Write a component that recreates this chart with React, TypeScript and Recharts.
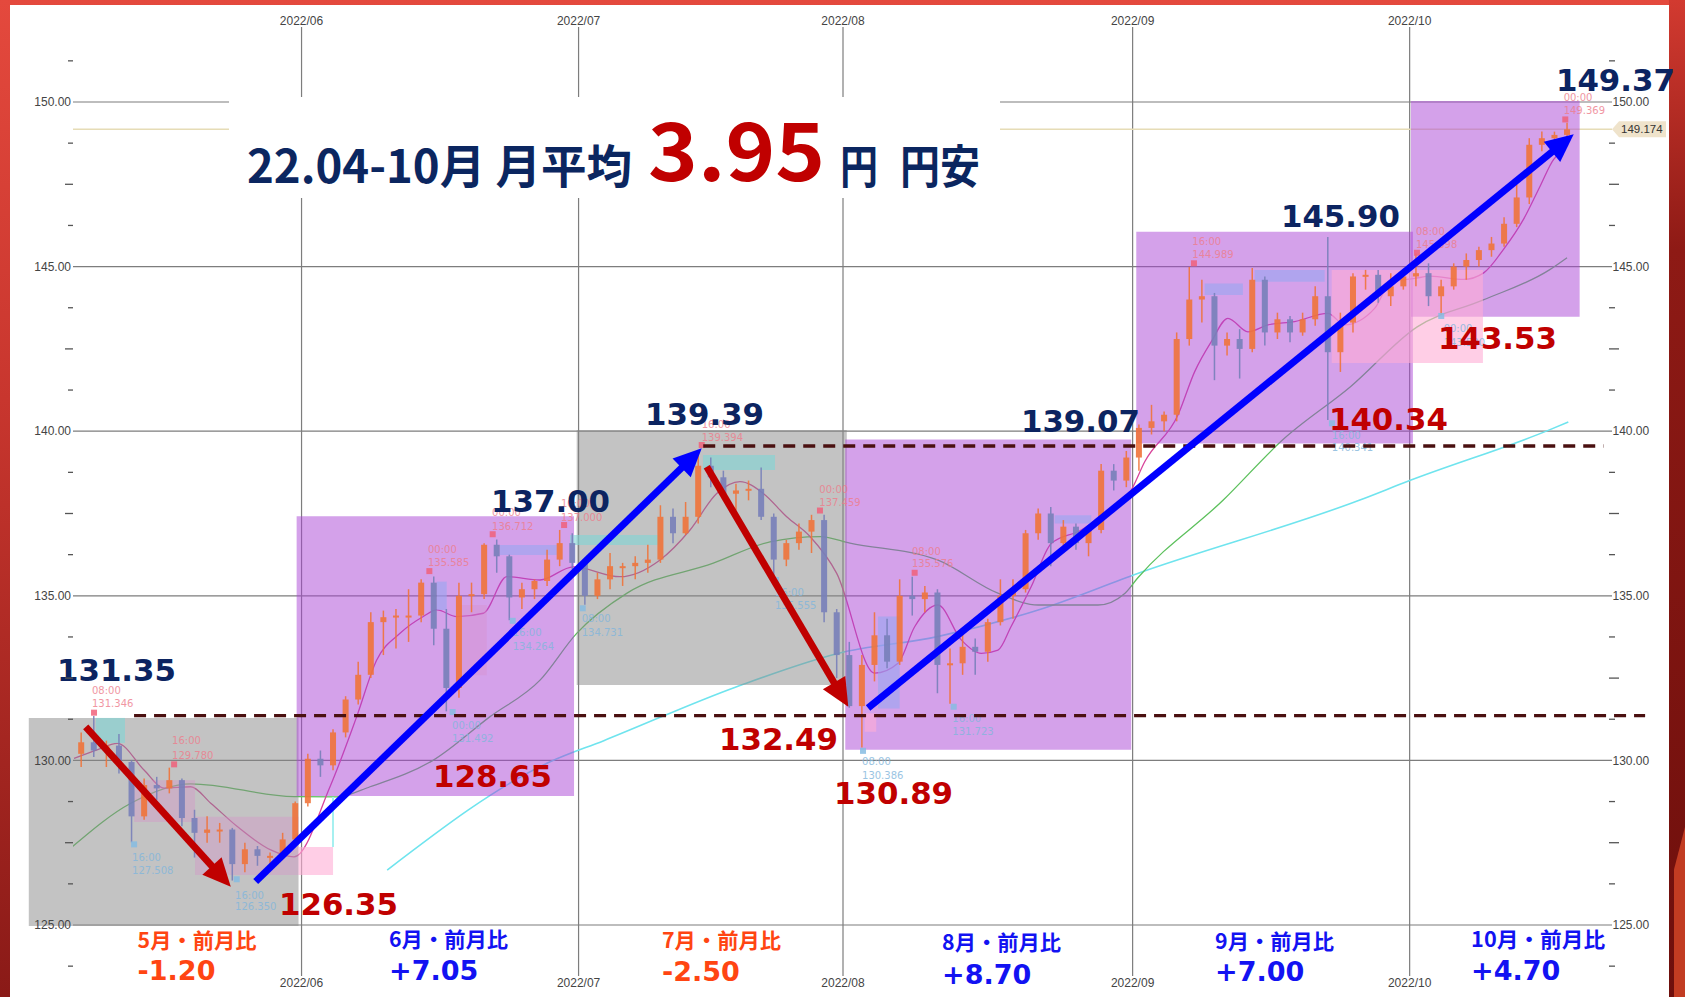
import React from 'react';
import {
  ComposedChart,
  XAxis,
  YAxis,
  Bar,
  Line,
  ReferenceArea,
  ReferenceLine,
  ReferenceDot,
} from 'recharts';

const CHART_W = 1685;
const CHART_H = 997;

// x = trading-day index (0 = 2022/06/01), y = USD/JPY
const X_DOMAIN = [-18.15, 104.07];
const Y_DOMAIN = [123.451, 152.278];

const monthTicks = [0, 22, 43, 66, 88];
const monthTickLabels = ['2022/06', '2022/07', '2022/08', '2022/09', '2022/10'];
const priceTicks = [
  123.75, 125, 126.25, 127.5, 128.75, 130, 131.25, 132.5, 133.75, 135, 136.25, 137.5,
  138.75, 140, 141.25, 142.5, 143.75, 145, 146.25, 147.5, 148.75, 150, 151.25,
];
const gridPrices = [125, 130, 135, 140, 145, 150];
const currentPrice = 149.174;

// daily candles [open, high, low, close]
const mayStart = -18;
const mayOHLC = [
  [130.2, 130.85, 129.8, 130.55], [130.55, 131.35, 130.1, 130.3], [130.3, 130.6, 129.8, 130.45],
  [130.45, 130.8, 129.6, 129.95], [129.95, 130.0, 127.51, 128.3], [128.3, 129.45, 128.2, 129.25],
  [129.25, 129.5, 128.8, 129.15], [129.15, 129.78, 129.0, 129.4], [129.4, 129.45, 128.0, 128.25],
  [128.25, 128.5, 127.05, 127.8], [127.8, 128.3, 127.5, 127.9], [127.9, 128.1, 127.5, 127.9],
  [127.9, 127.95, 126.35, 126.85], [126.85, 127.5, 126.6, 127.3], [127.3, 127.4, 126.8, 127.1],
  [127.1, 127.2, 126.8, 127.1], [127.1, 127.8, 127.0, 127.6], [127.6, 128.75, 127.55, 128.7],
];
const junStart = 0;
const junOHLC = [
  [128.7, 130.2, 128.6, 130.05], [130.05, 130.3, 129.5, 129.85], [129.85, 130.95, 129.7, 130.85],
  [130.85, 131.95, 130.7, 131.85], [131.85, 133.0, 131.7, 132.6], [132.6, 134.5, 132.5, 134.2],
  [134.2, 134.55, 133.2, 134.35], [134.35, 134.6, 133.4, 134.4], [134.4, 135.2, 133.6, 134.4],
  [134.4, 135.5, 134.2, 135.4], [135.4, 135.59, 133.5, 134.0], [134.0, 134.6, 131.49, 132.2],
  [132.2, 135.4, 131.9, 135.0], [135.0, 135.4, 134.5, 135.05], [135.05, 136.6, 134.9, 136.55],
  [136.55, 136.71, 135.7, 136.2], [136.2, 136.25, 134.26, 134.95], [134.95, 135.4, 134.6, 135.2],
  [135.2, 135.5, 134.9, 135.45], [135.45, 136.4, 135.3, 136.1], [136.1, 137.0, 135.9, 136.6],
  [136.6, 136.9, 135.8, 136.0],
];
const julStart = 22;
const julOHLC = [
  [136.0, 136.1, 134.73, 135.0], [135.0, 135.7, 134.9, 135.5], [135.5, 136.3, 135.2, 135.9],
  [135.9, 136.0, 135.3, 135.9], [135.9, 136.2, 135.5, 136.0], [136.0, 136.55, 135.7, 136.1],
  [136.1, 137.75, 136.0, 137.4], [137.4, 137.65, 136.6, 136.9], [136.9, 137.85, 136.85, 137.4],
  [137.4, 139.39, 137.2, 138.95], [138.95, 139.2, 138.3, 138.6], [138.6, 138.8, 138.0, 138.1],
  [138.1, 138.4, 137.6, 138.2], [138.2, 138.5, 137.9, 138.25], [138.25, 138.9, 137.3, 137.4],
  [137.4, 137.5, 135.55, 136.1], [136.1, 136.7, 135.9, 136.6], [136.6, 137.2, 136.4, 136.95],
  [136.95, 137.46, 136.3, 137.3], [137.3, 137.46, 134.2, 134.5], [134.5, 134.6, 132.5, 133.2],
];
const augStart = 43;
const augOHLC = [
  [133.2, 133.6, 131.6, 131.65], [131.65, 133.2, 130.39, 132.9], [132.9, 134.5, 132.4, 133.8],
  [133.8, 134.3, 132.8, 133.0], [133.0, 135.5, 132.9, 135.0], [135.0, 135.58, 134.4, 134.9],
  [134.9, 135.3, 134.5, 135.1], [135.1, 135.2, 132.04, 132.9], [132.9, 133.4, 131.72, 132.95],
  [132.95, 133.9, 132.6, 133.45], [133.45, 133.7, 132.6, 133.3], [133.3, 134.3, 133.0, 134.2],
  [134.2, 135.5, 134.1, 135.0], [135.0, 135.5, 134.3, 135.2], [135.2, 137.0, 135.1, 136.9],
  [136.9, 137.65, 136.7, 137.5], [137.5, 137.7, 135.9, 136.6], [136.6, 137.3, 136.4, 137.1],
  [137.1, 137.2, 136.4, 136.6], [136.6, 137.1, 136.2, 137.0], [137.0, 139.0, 136.9, 138.8],
  [138.8, 139.0, 138.2, 138.5], [138.5, 139.4, 138.3, 139.2],
];
const sepStart = 66;
const sepOHLC = [
  [139.2, 140.2, 138.8, 140.1], [140.1, 140.8, 139.9, 140.3], [140.3, 140.6, 140.0, 140.5],
  [140.5, 143.0, 140.3, 142.8], [142.8, 144.99, 142.6, 144.0], [144.0, 144.6, 143.3, 144.1],
  [144.1, 144.2, 141.55, 142.6], [142.6, 143.0, 142.3, 142.8], [142.8, 143.1, 141.6, 142.5],
  [142.5, 144.96, 142.4, 144.6], [144.6, 144.7, 142.6, 143.0], [143.0, 143.6, 142.8, 143.4],
  [143.4, 143.5, 142.7, 143.0], [143.0, 143.6, 142.9, 143.4], [143.4, 144.4, 143.2, 144.1],
  [144.1, 145.9, 140.34, 142.4], [142.4, 143.6, 141.8, 143.3], [143.3, 144.8, 143.0, 144.7],
  [144.7, 144.9, 144.3, 144.75], [144.75, 144.9, 143.9, 144.1], [144.1, 144.8, 143.8, 144.4],
  [144.4, 144.9, 144.3, 144.7],
];
const octStart = 88;
const octOHLC = [
  [144.7, 145.4, 144.4, 144.8], [144.8, 145.1, 143.8, 144.1], [144.1, 144.6, 143.53, 144.4],
  [144.4, 145.1, 144.3, 145.0], [145.0, 145.4, 144.6, 145.2], [145.2, 145.6, 145.0, 145.5],
  [145.5, 145.9, 145.3, 145.7], [145.7, 146.5, 145.6, 146.3], [146.3, 147.5, 146.2, 147.1],
  [147.1, 148.9, 146.9, 148.7], [148.7, 149.1, 148.5, 148.9], [148.9, 149.1, 148.4, 149.0],
  [149.0, 149.37, 148.9, 149.17],
];

// moving averages [x index, value]
const fastMA = [
  [-18.07, 130.06], [-16.24, 130.32], [-14.63, 130.52], [-12.51, 129.71], [-10.92, 129.16],
  [-8.8, 129.2], [-7.21, 128.7], [-5.1, 127.99], [-2.45, 127.28], [-0.6, 127.07], [2.26, 129.2],
  [4.38, 131.33], [5.97, 133.05], [7.82, 133.86], [9.67, 134.37], [10.74, 134.57], [12.32, 134.37],
  [14.44, 134.47], [16.3, 135.58], [18.94, 135.48], [21.58, 135.88], [25.29, 135.58],
  [28.47, 136.09], [30.85, 137.0], [32.97, 138.11], [34.82, 138.47], [36.67, 138.11],
  [38.53, 137.4], [40.38, 136.8], [42.5, 135.68], [45.52, 132.65], [47.37, 132.95],
  [48.69, 134.06], [50.54, 134.72], [52.39, 133.66], [53.98, 133.25], [55.31, 133.35],
  [56.34, 134.06], [57.95, 135.28], [59.54, 136.59], [61.92, 137.0], [63.78, 137.51],
  [65.89, 138.21], [66.96, 139.07], [69.6, 140.49], [70.93, 141.81], [72.25, 142.72],
  [73.57, 143.43], [75.16, 143.02], [76.75, 143.23], [78.87, 143.33], [81.51, 143.58],
  [82.84, 143.23], [85.22, 143.73], [86.54, 144.54], [88.4, 144.64], [89.64, 144.71],
  [92.29, 144.61], [93.88, 144.81], [95.47, 145.53], [97.05, 146.44], [98.37, 147.45],
  [99.44, 148.26], [99.96, 148.46],
];
const midMA = [
  [-18.2, 127.38], [-13.56, 128.7], [-8.8, 129.29], [-0.6, 128.9], [2.8, 128.89], [5.44, 129.2],
  [10.47, 130.01], [14.97, 131.33], [18.94, 132.44], [21.85, 133.86], [25.85, 135.08],
  [32.7, 135.99], [37.2, 136.64], [41.2, 136.8], [43.55, 136.6], [50.5, 136.09], [55.3, 135.08],
  [58.5, 134.72], [63.25, 134.72], [65.4, 135.08], [66.4, 135.54], [73.2, 137.91],
  [77.9, 139.73], [83.3, 141.35], [88.6, 143.17], [93.8, 143.98], [99.1, 144.9], [100.5, 145.27],
];
const slowMA = [
  [6.8, 126.67], [19.7, 129.95], [24.0, 130.6], [34.56, 132.24], [42.6, 133.25], [50.5, 133.76],
  [58.5, 134.57], [66.4, 135.68], [84.05, 137.91], [88.0, 138.5], [99.1, 140.04], [100.6, 140.28],
];

// monthly ranges [x1, x2, low, high]
const mayRange = [-21.66, -0.24, 124.97, 131.29];
const junRange = [-0.39, 21.64, 128.92, 137.42];
const julRange = [21.85, 43.3, 132.29, 140.04];
const augRange = [43.18, 65.89, 130.32, 139.75];
const sepRange = [66.29, 88.26, 139.63, 146.06];
const octRange = [88.1, 101.5, 143.48, 150.03];

// indicator zones [x1, x2, low, high]
const cyanZones = [
  [-16.34, -14.02, 130.53, 131.29], [31.88, 37.6, 138.82, 139.28], [21.32, 28.47, 136.54, 136.85],
];
const blueZones = [
  [15.76, 20.27, 136.24, 136.54], [10.74, 11.53, 134.57, 135.43], [45.78, 47.5, 131.58, 134.37],
  [59.81, 62.72, 137.2, 137.45], [71.72, 74.76, 144.14, 144.49], [75.69, 81.25, 144.54, 144.9],
];
const pinkZones = [
  [81.81, 93.82, 142.07, 144.9], [-0.24, 2.5, 126.52, 127.37], [44.72, 45.64, 130.87, 131.43],
];
const mauveZones = [
  [-13.3, -8.46, 128.13, 129.4], [-8.46, -0.24, 126.52, 128.29], [12.59, 14.71, 132.59, 134.72],
];
const cyanStem = [2.5, 127.37, 128.89];

// support / resistance levels [x1, x2, price]
const supportLevel = [-13.3, 106.7, 131.36];
const resistanceLevel = [31.9, 103.4, 139.55];

// trend arrows [xStart, yStart, xEnd, yEnd]
const downArrows = [
  [-17.14, 131.02, -5.62, 126.16],
  [32.18, 138.92, 43.42, 131.63],
];
const upArrows = [
  [-3.64, 126.32, 31.78, 139.48],
  [44.99, 131.59, 101.03, 149.02],
];

// swing highs / lows
const swingHighs = [
  [-16.48, 131.45], [-10.12, 129.88], [10.15, 135.75], [15.18, 136.87], [20.85, 137.15],
  [31.78, 139.58], [41.17, 137.59], [48.69, 135.7], [70.87, 145.1], [88.58, 145.42], [100.36, 149.47],
];
const swingLows = [
  [-13.3, 127.45], [-5.15, 126.39], [12.0, 131.47], [16.77, 134.24], [22.33, 134.62],
  [37.68, 135.48], [44.59, 130.29], [51.79, 131.63], [81.83, 140.24], [90.51, 143.5],
];
const highNotes = [
  [-16.64, 132.14, '08:00'], [-16.64, 131.74, '131.346'], [-10.28, 130.62, '16:00'], [-10.28, 130.16, '129.780'],
  [10.04, 136.42, '00:00'], [10.04, 136.0, '135.585'], [15.13, 137.52, '00:00'], [15.13, 137.12, '136.712'],
  [20.6, 137.82, '16:00'], [20.6, 137.39, '137.000'], [31.78, 140.22, '16:00'], [31.78, 139.8, '139.394'],
  [41.12, 138.24, '00:00'], [41.12, 137.83, '137.459'], [48.48, 136.36, '08:00'], [48.48, 135.97, '135.576'],
  [70.74, 145.78, '16:00'], [70.74, 145.37, '144.989'], [88.5, 146.06, '08:00'], [88.5, 145.66, '145.398'],
  [100.23, 150.15, '00:00'], [100.23, 149.75, '149.369'],
];
const lowNotes = [
  [-13.46, 127.06, '16:00'], [-13.46, 126.67, '127.508'], [-5.28, 125.91, '16:00'], [-5.28, 125.55, '126.350'],
  [11.95, 131.07, '00:00'], [11.95, 130.68, '131.492'], [16.77, 133.88, '16:00'], [16.77, 133.45, '134.264'],
  [22.25, 134.3, '08:00'], [22.25, 133.9, '134.731'], [37.6, 135.09, '16:00'], [37.6, 134.72, '135.555'],
  [44.51, 129.96, '08:00'], [44.51, 129.54, '130.386'], [51.68, 131.28, '16:00'], [51.68, 130.87, '131.723'],
  [81.82, 139.88, '16:00'], [81.82, 139.51, '140.341'], [90.7, 143.11, '00:00'], [90.7, 142.71, '143.530'],
];

// price callouts [x, y, text, kind]
const priceCallouts = [
  [-19.42, 132.75, '131.35', 'hi'], [-1.79, 125.64, '126.35', 'lo'], [10.44, 129.53, '128.65', 'lo'],
  [15.05, 137.88, '137.00', 'hi'], [27.28, 140.52, '139.39', 'hi'], [33.15, 130.65, '132.49', 'lo'],
  [42.29, 129.01, '130.89', 'lo'], [57.13, 140.31, '139.07', 'hi'], [77.78, 146.54, '145.90', 'hi'],
  [81.59, 140.37, '140.34', 'lo'], [90.25, 142.83, '143.53', 'lo'], [99.62, 150.67, '149.37', 'hi'],
];

// month-over-month change
const changeNames = ['5月・前月比', '6月・前月比', '7月・前月比', '8月・前月比', '9月・前月比', '10月・前月比'];
const changeValues = ['-1.20', '+7.05', '-2.50', '+8.70', '+7.00', '+4.70'];
const changeX = [-13.02, 6.95, 28.63, 50.87, 72.55, 92.88];
const changeHeadY = [124.54, 124.57, 124.54, 124.48, 124.51, 124.57];
const changeValueY = [123.63, 123.63, 123.6, 123.51, 123.6, 123.63];

// title
const titleBox = [-5.76, 55.47, 147.08, 150.15];
const titleParts = ['22.04-10月 月平均', '3.95', '円', '円安'];
const titleAnchors = [[-4.33, 147.54], [27.52, 147.6], [42.76, 147.54], [47.53, 147.54]];

const FONT_UI = '"Liberation Sans", Arial, sans-serif';
const FONT_NUM = '"DejaVu Sans", Verdana, sans-serif';
const FONT_JP = '"Noto Sans CJK JP", "Noto Sans CJK SC", sans-serif';

const NAVY = '#0c2461';
const RED = '#c00000';

const candleTable = [
  [mayStart, mayOHLC], [junStart, junOHLC], [julStart, julOHLC],
  [augStart, augOHLC], [sepStart, sepOHLC], [octStart, octOHLC],
].flatMap(([start, rows]: any) =>
  rows.map((r: number[], i: number) => ({
    x: start + i + 0.5, o: r[0], h: r[1], l: r[2], c: r[3], range: [r[2], r[1]],
  })),
);

const toLine = (arr: number[][]) => arr.map(([x, v]) => ({ x, v }));

const BODY_W = 6;

const Candle = (props: any) => {
  const { x, y, width, height, payload } = props;
  if (!payload || x == null || y == null) return null;
  const top = Math.min(y, y + height);
  const hh = Math.abs(height);
  const span = payload.h - payload.l;
  const k = span > 0 ? hh / span : 0;
  const yo = top + (payload.h - payload.o) * k;
  const yc = top + (payload.h - payload.c) * k;
  const up = payload.c >= payload.o;
  const col = up ? '#f0743a' : '#7880ba';
  const cx = x + (width || 0) / 2;
  return (
    <g opacity={0.9}>
      <line x1={cx} x2={cx} y1={top} y2={top + hh} stroke={col} strokeWidth={1.5} />
      <rect x={cx - BODY_W / 2} y={Math.min(yo, yc)} width={BODY_W}
        height={Math.max(2, Math.abs(yc - yo))} fill={col} />
    </g>
  );
};

const arrowShape = (color: string) => (p: any) => {
  const { x1, y1, x2, y2 } = p;
  if (x1 == null || x2 == null) return null;
  const dx = x2 - x1;
  const dy = y2 - y1;
  const len = Math.hypot(dx, dy) || 1;
  const ux = dx / len;
  const uy = dy / len;
  const headL = 28;
  const headW = 13;
  const bx = x2 - ux * headL;
  const by = y2 - uy * headL;
  const nx = -uy;
  const ny = ux;
  return (
    <g>
      <line x1={x1} y1={y1} x2={bx + ux * 3} y2={by + uy * 3} stroke={color} strokeWidth={7} />
      <polygon
        points={`${x2},${y2} ${bx + nx * headW},${by + ny * headW} ${bx - nx * headW},${by - ny * headW}`}
        fill={color}
      />
    </g>
  );
};

const LeftTick = (props: any) => {
  const { x, y, payload } = props;
  const v = payload.value;
  if (gridPrices.includes(v)) {
    return (
      <text x={x - 2} y={y + 4.2} textAnchor="end" fontSize={12} fontFamily={FONT_UI} fill="#444">
        {v.toFixed(2)}
      </text>
    );
  }
  const long = Math.abs((v % 5) - 2.5) < 0.01;
  return <line x1={x - (long ? 8 : 5)} x2={x} y1={y} y2={y} stroke="#555" strokeWidth={1.3} />;
};

const RightTick = (props: any) => {
  const { x, y, payload } = props;
  const v = payload.value;
  if (gridPrices.includes(v)) {
    return (
      <text x={x + 0.5} y={y + 4.2} textAnchor="start" fontSize={12} fontFamily={FONT_UI} fill="#444">
        {v.toFixed(2)}
      </text>
    );
  }
  const long = Math.abs((v % 5) - 2.5) < 0.01;
  return <line x1={x - 3} x2={x + (long ? 7 : 3)} y1={y} y2={y} stroke="#555" strokeWidth={1.3} />;
};

const TopTick = (props: any) => {
  const { x, y, payload } = props;
  const i = monthTicks.indexOf(payload.value);
  return (
    <text x={x} y={y - 2.5} textAnchor="middle" fontSize={12} fontFamily={FONT_UI} fill="#444">
      {monthTickLabels[i]}
    </text>
  );
};

const BottomTick = (props: any) => {
  const { x, y, payload } = props;
  const i = monthTicks.indexOf(payload.value);
  return (
    <text x={x} y={y + 11.3} textAnchor="middle" fontSize={12} fontFamily={FONT_UI} fill="#444">
      {monthTickLabels[i]}
    </text>
  );
};

const textShape = (text: string, o: any) => (p: any) => {
  if (p.cx == null || p.cy == null) return null;
  return (
    <text
      x={p.cx}
      y={o.baseline ? p.cy : p.cy + o.size * 0.36}
      fontSize={o.size}
      fontFamily={o.font}
      fontWeight={o.weight || 'bold'}
      fill={o.color}
      opacity={o.opacity == null ? 1 : o.opacity}
      textLength={o.len}
      lengthAdjust={o.len ? 'spacingAndGlyphs' : undefined}
    >
      {text}
    </text>
  );
};

const squareShape = (color: string) => (p: any) =>
  p.cx == null ? null : <rect x={p.cx - 3} y={p.cy - 3} width={6} height={6} fill={color} opacity={0.85} />;

const priceTagShape = (p: any) => {
  if (p.cx == null) return null;
  const { cx, cy } = p;
  return (
    <g>
      <polygon
        points={`${cx},${cy} ${cx + 7},${cy - 8} ${cx + 54},${cy - 8} ${cx + 54},${cy + 8} ${cx + 7},${cy + 8}`}
        fill="#efe3cb"
      />
      <text x={cx + 9} y={cy + 4} fontSize={11.5} fontFamily={FONT_UI} fill="#333">
        {currentPrice.toFixed(3)}
      </text>
    </g>
  );
};

const AX = { xAxisId: 'B', yAxisId: 'L' };

export default function App() {
  const monthBoxes = [
    [mayRange, 'gray'], [junRange, 'purple'], [julRange, 'gray'],
    [augRange, 'purple'], [sepRange, 'purple'], [octRange, 'purple'],
  ];
  const titleStyles = [
    { size: 46, font: FONT_JP, color: '#0b2660', len: 385, baseline: true },
    { size: 80, font: FONT_JP, color: RED, len: 177, baseline: true },
    { size: 46, font: FONT_JP, color: '#0b2660', len: 38, baseline: true },
    { size: 46, font: FONT_JP, color: '#0b2660', len: 80, baseline: true },
  ];
  return (
    <div style={{ position: 'relative', width: CHART_W, height: CHART_H, overflow: 'hidden',
      background: 'linear-gradient(180deg,#e4493d 0%,#c8362e 40%,#8a1a17 100%)' }}>
      <style>{'html,body{margin:0;padding:0;}'}</style>
      <div style={{ position: 'absolute', right: 0, top: 0, width: 16, height: CHART_H,
        background: 'linear-gradient(180deg,#d23a30 0%,#8e1a15 25%,#6e0f0c 100%)' }} />
      <div style={{ position: 'absolute', right: 0, top: 827, width: 11, height: 170, background: '#c23c22',
        clipPath: 'polygon(100% 0, 100% 100%, 0 100%, 0 25%)' }} />
      <div style={{ position: 'absolute', left: 10, top: 5, width: 1659, height: 992, background: '#ffffff' }} />
      <div style={{ position: 'absolute', left: 0, top: 0 }}>
        <ComposedChart width={CHART_W} height={CHART_H} data={candleTable}
          margin={{ top: 0, right: 0, bottom: 0, left: 0 }}>
          <XAxis xAxisId="B" dataKey="x" type="number" domain={X_DOMAIN} allowDataOverflow
            ticks={monthTicks} interval={0} orientation="bottom" height={21}
            axisLine={false} tickLine={false} tickSize={0} tickMargin={0} tick={(p: any) => <BottomTick {...p} />} />
          <XAxis xAxisId="T" dataKey="x" type="number" domain={X_DOMAIN} allowDataOverflow
            ticks={monthTicks} interval={0} orientation="top" height={27}
            axisLine={false} tickLine={false} tickSize={0} tickMargin={0} tick={(p: any) => <TopTick {...p} />} />
          <YAxis yAxisId="L" type="number" domain={Y_DOMAIN} allowDataOverflow ticks={priceTicks}
            interval={0} orientation="left" width={73} axisLine={false} tickLine={false}
            tickSize={0} tickMargin={0} tick={(p: any) => <LeftTick {...p} />} />
          <YAxis yAxisId="R" type="number" domain={Y_DOMAIN} allowDataOverflow ticks={priceTicks}
            interval={0} orientation="right" width={73} axisLine={false} tickLine={false}
            tickSize={0} tickMargin={0} tick={(p: any) => <RightTick {...p} />} />

          {gridPrices.map((v) => (
            <ReferenceLine key={'gy' + v} {...AX} y={v} stroke="#7d7d7d" strokeWidth={1.2} zIndex={10} />
          ))}
          {monthTicks.map((v) => (
            <ReferenceLine key={'gx' + v} {...AX} x={v} stroke="#7d7d7d" strokeWidth={1.2} zIndex={10} />
          ))}
          <ReferenceLine {...AX} y={currentPrice} stroke="#e6dcb6" strokeWidth={1.5} zIndex={12} />

          <Line {...AX} data={toLine(slowMA)} dataKey="v" type="monotone" dot={false} activeDot={false}
            stroke="#6fe4ee" strokeWidth={1.6} isAnimationActive={false} zIndex={15} />
          <Line {...AX} data={toLine(midMA)} dataKey="v" type="monotone" dot={false} activeDot={false}
            stroke="#5cc05c" strokeWidth={1.3} isAnimationActive={false} zIndex={15} />
          <Line {...AX} data={toLine(fastMA)} dataKey="v" type="monotone" dot={false} activeDot={false}
            stroke="#d8449a" strokeWidth={1.3} isAnimationActive={false} zIndex={15} />

          {monthBoxes.map(([r, kind]: any, i) => (
            <ReferenceArea key={'mb' + i} {...AX} x1={r[0]} x2={r[1]} y1={r[2]} y2={r[3]}
              fill={kind === 'gray' ? '#888888' : '#a944d6'} fillOpacity={0.5} stroke="none"
              ifOverflow="visible" zIndex={20} />
          ))}
          {mauveZones.map((r, i) => (
            <ReferenceArea key={'mz' + i} {...AX} x1={r[0]} x2={r[1]} y1={r[2]} y2={r[3]}
              fill="#d78cc8" fillOpacity={0.35} stroke="none" ifOverflow="visible" zIndex={25} />
          ))}
          {pinkZones.map((r, i) => (
            <ReferenceArea key={'pz' + i} {...AX} x1={r[0]} x2={r[1]} y1={r[2]} y2={r[3]}
              fill="#ffaed6" fillOpacity={0.6} stroke="none" ifOverflow="visible" zIndex={25} />
          ))}
          {cyanZones.map((r, i) => (
            <ReferenceArea key={'cz' + i} {...AX} x1={r[0]} x2={r[1]} y1={r[2]} y2={r[3]}
              fill="#7fd6d6" fillOpacity={0.6} stroke="none" ifOverflow="visible" zIndex={25} />
          ))}
          {blueZones.map((r, i) => (
            <ReferenceArea key={'bz' + i} {...AX} x1={r[0]} x2={r[1]} y1={r[2]} y2={r[3]}
              fill="#98a6f0" fillOpacity={0.6} stroke="none" ifOverflow="visible" zIndex={25} />
          ))}
          <ReferenceLine {...AX} segment={[{ x: cyanStem[0], y: cyanStem[1] }, { x: cyanStem[0], y: cyanStem[2] }]}
            stroke="#a6f0f0" strokeWidth={2} ifOverflow="visible" zIndex={25} />

          <Bar {...AX} dataKey="range" barSize={6} shape={(p: any) => <Candle {...p} />}
            isAnimationActive={false} zIndex={30} />

          {swingHighs.map((d, i) => (
            <ReferenceDot key={'sh' + i} {...AX} x={d[0]} y={d[1]} r={0} ifOverflow="visible"
              shape={squareShape('#f0607a')} zIndex={40} />
          ))}
          {swingLows.map((d, i) => (
            <ReferenceDot key={'sl' + i} {...AX} x={d[0]} y={d[1]} r={0} ifOverflow="visible"
              shape={squareShape('#86bce2')} zIndex={40} />
          ))}
          {highNotes.map((d: any, i) => (
            <ReferenceDot key={'hn' + i} {...AX} x={d[0]} y={d[1]} r={0} ifOverflow="visible"
              shape={textShape(d[2], { size: 10, font: FONT_NUM, weight: 'normal', color: '#ee7d8c', opacity: 0.8 })}
              zIndex={40} />
          ))}
          {lowNotes.map((d: any, i) => (
            <ReferenceDot key={'ln' + i} {...AX} x={d[0]} y={d[1]} r={0} ifOverflow="visible"
              shape={textShape(d[2], { size: 10, font: FONT_NUM, weight: 'normal', color: '#82b6dc', opacity: 0.8 })}
              zIndex={40} />
          ))}

          {[supportLevel, resistanceLevel].map((s, i) => (
            <ReferenceLine key={'lv' + i} {...AX} segment={[{ x: s[0], y: s[2] }, { x: s[1], y: s[2] }]}
              stroke="#4a1010" strokeWidth={3.4} strokeDasharray="12 8" ifOverflow="visible" zIndex={50} />
          ))}

          {downArrows.map((a, i) => (
            <ReferenceLine key={'da' + i} {...AX} segment={[{ x: a[0], y: a[1] }, { x: a[2], y: a[3] }]}
              stroke="#c00000" strokeWidth={7} shape={arrowShape('#c00000')} ifOverflow="visible" zIndex={60} />
          ))}
          {upArrows.map((a, i) => (
            <ReferenceLine key={'ua' + i} {...AX} segment={[{ x: a[0], y: a[1] }, { x: a[2], y: a[3] }]}
              stroke="#0000ff" strokeWidth={7} shape={arrowShape('#0000ff')} ifOverflow="visible" zIndex={60} />
          ))}

          <ReferenceDot {...AX} x={X_DOMAIN[1]} y={currentPrice} r={0} ifOverflow="visible"
            shape={priceTagShape} zIndex={65} />

          <ReferenceArea {...AX} x1={titleBox[0]} x2={titleBox[1]} y1={titleBox[2]} y2={titleBox[3]}
            fill="#ffffff" fillOpacity={1} stroke="none" ifOverflow="visible" zIndex={70} />
          {titleParts.map((t, i) => (
            <ReferenceDot key={'tt' + i} {...AX} x={titleAnchors[i][0]} y={titleAnchors[i][1]} r={0}
              ifOverflow="visible" shape={textShape(t, titleStyles[i])} zIndex={75} />
          ))}

          {priceCallouts.map((d: any, i) => (
            <ReferenceDot key={'pc' + i} {...AX} x={d[0]} y={d[1]} r={0} ifOverflow="visible"
              shape={textShape(d[2], { size: 31, font: FONT_NUM, color: d[3] === 'hi' ? NAVY : RED, len: 119 })}
              zIndex={80} />
          ))}
          {changeNames.map((name, i) => {
            const neg = changeValues[i].startsWith('-');
            const color = neg ? '#ff4512' : '#1212f2';
            return (
              <React.Fragment key={'ch' + i}>
                <ReferenceDot {...AX} x={changeX[i]} y={changeHeadY[i]} r={0} ifOverflow="visible"
                  shape={textShape(name, { size: 21, font: FONT_JP, color, len: i === 5 ? 134 : 119 })} zIndex={80} />
                <ReferenceDot {...AX} x={changeX[i]} y={changeValueY[i]} r={0} ifOverflow="visible"
                  shape={textShape(changeValues[i], { size: 27, font: FONT_NUM, color })} zIndex={80} />
              </React.Fragment>
            );
          })}
        </ComposedChart>
      </div>
    </div>
  );
}
